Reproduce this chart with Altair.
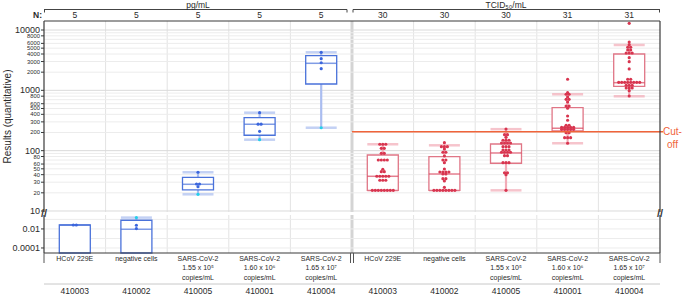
import altair as alt
import pandas as pd

FONT = "Liberation Sans"

# ---------------- data ----------------
SAMPLES = ["410003", "410002", "410005", "410001", "410004"]
NAMES = ["HCoV 229E", "negative cells",
         "SARS-CoV-2\n1.55 x 10⁵\ncopies/mL",
         "SARS-CoV-2\n1.60 x 10⁶\ncopies/mL",
         "SARS-CoV-2\n1.65 x 10⁷\ncopies/mL"]
UNITS = ["pg/mL", "TCID₅₀/mL"]
N_COUNTS = [5, 5, 5, 5, 5, 30, 30, 30, 31, 31]

# box statistics (pg/mL x5, then TCID50/mL x5)
Q1 = [0, 0, 22.3, 180, 1274, 22.0, 22.0, 61.8, 212, 1167]
MED = [0.026, 0.0093, 27.7, 274, 2806, 37.6, 41.0, 91.5, 235, 1339]
Q3 = [0.026, 0.082, 36.2, 352, 3750, 84.8, 79.4, 129, 515, 4000]
WLO = [0, 0, 18.9, 152, 240, 22.0, 22.0, 22.0, 132.5, 797]
WHI = [0.026, 0.155, 43.8, 426, 4270, 127.6, 122.7, 227, 860, 5646]

PG_POINTS = [
    [0.026, 0.026],
    [0.0245, 0.0108],
    [43.8, 28.0, 28.0, 25.3],
    [426, 275, 275, 209],
    [4270, 3345, 2870, 2284],
]
PG_MIN_POINTS = [[], [0.155], [18.9], [152], [240]]

T_410003 = [127.6, 127.6, 127.6, 109.4, 109.4, 90.3, 90.3, 70.0, 70.0, 70.0, 70.0,
            49.1, 44.8, 44.8, 37.6, 37.6, 37.6, 37.6, 37.6, 32.3, 32.3, 32.3,
            22.0, 22.0, 22.0, 22.0, 22.0, 22.0, 22.0, 22.0]
T_410002 = [135.6, 116.4, 116.4, 116.4, 106.6, 94.0, 94.0, 81.6, 70.0, 70.0, 63.2,
            49.7, 44.3, 44.3, 44.3, 44.3, 41.0, 41.0, 34.3, 34.3, 31.4, 24.7,
            22.0, 22.0, 22.0, 22.0, 22.0, 22.0, 22.0, 22.0]
T_410005 = [228.6, 184.0, 184.0, 166.6, 148.6, 148.6, 148.6, 134.1, 134.1, 134.1, 134.1,
            116.4, 116.4, 116.4, 102.6, 102.6, 102.6, 94.0, 94.0, 94.0, 94.0,
            82.6, 82.6, 63.2, 63.2, 63.2, 43.1, 43.1, 40.0, 22.0]
T_410001 = [1524, 914, 860, 860, 776, 710, 710, 641, 550, 550, 504, 376, 319,
            263.5, 263.5, 244, 244, 244, 244, 244, 226, 226, 226, 226, 226,
            198.6, 198.6, 164, 164, 164, 132.5]
T_410004 = [12910, 6324, 5712, 5169, 5169, 4666, 4666, 4161, 4161, 4161, 3476, 2985,
            2261, 1524, 1524, 1358, 1358, 1358, 1358, 1358, 1358, 1358, 1358,
            1213, 1213, 1213, 1094, 1094, 1094, 986, 805]
TCID_POINTS = [T_410003, T_410002, T_410005, T_410001, T_410004]
CUTOFF = 206

UPPER_TICKS = [10, 20, 30, 40, 50, 60, 70, 80, 90, 100, 200, 300, 400, 500, 600, 700,
               800, 900, 1000, 2000, 3000, 4000, 5000, 6000, 7000, 8000, 9000, 10000]
UPPER_UNLABELED = [70, 90, 700, 900, 7000, 9000]
UPPER_MAJOR = [10, 100, 1000, 10000]
LOWER_TICKS = [0.0001, 0.001, 0.01, 0.1]
LOWER_LABELED = [0.0001, 0.01]

# ---------------- colours ----------------
BLUE_BOX, BLUE_LIGHT, BLUE_PT, CYAN = "#4a72da", "#aabdf0", "#3b66dd", "#22d0ea"
RED_BOX, RED_MED, RED_LIGHT, RED_PT = "#e07686", "#d8475f", "#f2abb7", "#d8354f"
ORANGE = "#f0643a"
FRAME = "#3a3a3a"
TXT = "#2a2a2a"

# ---------------- tables ----------------
keys = [f"{u}|{s}" for u in UNITS for s in SAMPLES]
grp = ["pg"] * 5 + ["tcid"] * 5
box_df = pd.DataFrame({"key": keys, "grp": grp, "q1": Q1, "med": MED, "q3": Q3,
                       "wlo": WLO, "whi": WHI})
rows = []
for i in range(5):
    for v in PG_POINTS[i]:
        rows.append((keys[i], "pg", "pg", v))
    for v in PG_MIN_POINTS[i]:
        rows.append((keys[i], "pg", "pg_min", v))
    for v in TCID_POINTS[i]:
        rows.append((keys[5 + i], "tcid", "tcid", v))
pts_df = pd.DataFrame(rows, columns=["key", "grp", "ptype", "val"])
cat_df = pd.DataFrame({"key": keys, "n": N_COUNTS, "name": NAMES * 2,
                       "sid": SAMPLES * 2, "idx": list(range(10))})
unit_df = pd.DataFrame({"key": [keys[2], keys[7]], "unit": UNITS})
cut_df = pd.DataFrame({"key": [keys[5]], "v": [CUTOFF]})
up_tick_df = pd.DataFrame({"v": UPPER_TICKS,
                           "major": [t in UPPER_MAJOR for t in UPPER_TICKS],
                           "lab": [t not in UPPER_UNLABELED for t in UPPER_TICKS]})
lo_tick_df = pd.DataFrame({"v": LOWER_TICKS,
                           "major": [False] * len(LOWER_TICKS),
                           "lab": [t in LOWER_LABELED for t in LOWER_TICKS]})
ONE = pd.DataFrame({"a": [0]})

W, H = 616, 232
UP_TOP, UP_BOT, LO_TOP = 0, 191, 194
XS = alt.Scale(domain=keys, paddingInner=0, paddingOuter=0)
UP = alt.Scale(type="log", domain=[9.62, 14100], range=[UP_BOT, UP_TOP], clamp=True)
LO = alt.Scale(type="log", domain=[2.97e-5, 0.29], range=[H, LO_TOP], clamp=True)


def X(**kw):
    return alt.X("key:N", scale=XS, axis=None, **kw)


def colr(a, b):
    return alt.condition("datum.grp == 'pg'", alt.value(a), alt.value(b))


def panel(scale, tick_df, fmt, box_test, pt_test, extra=()):
    def Y(f):
        return alt.Y(f, type="quantitative", scale=scale, axis=None, title=None)

    # hand-made y axis: grid, ticks, labels
    tk = alt.Chart(tick_df)
    grid = tk.mark_rule(strokeWidth=1).encode(
        x=alt.value(0), x2=alt.value(W), y=Y("v"),
        color=alt.condition("datum.major", alt.value("#dadada"), alt.value("#ececec")))
    ticks = tk.transform_filter("datum.lab").mark_rule(color=FRAME, strokeWidth=1).encode(
        x=alt.value(-3), x2=alt.value(0), y=Y("v"))
    labels = (tk.transform_filter("datum.lab")
              .transform_calculate(txt=f"format(datum.v, '{fmt}')")
              .mark_text(align="right", baseline="middle", font=FONT, color=TXT)
              .encode(x=alt.value(-4), y=Y("v"), text="txt:N",
                      size=alt.condition("datum.major", alt.value(9),
                                         alt.value(5.8 if fmt == "d" else 9))))

    bx = alt.Chart(box_df).transform_filter(box_test)
    wh = bx.mark_rule(strokeWidth=2.2).encode(x=X(), y=Y("q3"), y2="whi:Q",
                                              color=colr(BLUE_LIGHT, RED_LIGHT))
    wl = bx.mark_rule(strokeWidth=2.2).encode(x=X(), y=Y("wlo"), y2="q1:Q",
                                              color=colr(BLUE_LIGHT, RED_LIGHT))
    ch = bx.transform_filter("datum.whi > datum.q3").mark_tick(thickness=2.5, size=31).encode(
        x=X(), y=Y("whi"), color=colr(BLUE_LIGHT, RED_LIGHT))
    cl = bx.transform_filter("datum.wlo > 0").mark_tick(thickness=2.5, size=31).encode(
        x=X(), y=Y("wlo"), color=colr(BLUE_LIGHT, RED_LIGHT))
    box = bx.mark_bar(width=31, fill="white", strokeWidth=1.3).encode(
        x=X(), y=Y("q1"), y2="q3:Q", stroke=colr(BLUE_BOX, RED_BOX))
    med = bx.mark_tick(thickness=1.5, size=31).encode(x=X(), y=Y("med"),
                                                      color=colr(BLUE_BOX, RED_MED))
    pts = (alt.Chart(pts_df).transform_filter(pt_test)
           .transform_window(idx="row_number()", groupby=["key", "val"])
           .transform_joinaggregate(cnt="count()", groupby=["key", "val"])
           .transform_calculate(slot="datum.idx - (datum.cnt + 1) / 2")
           .mark_circle(size=10, opacity=1)
           .encode(x=X(),
                   xOffset=alt.XOffset("slot:Q", scale=alt.Scale(domain=[-10.27, 10.27],
                                                                  range=[0, W / 10])),
                   y=Y("val"),
                   color=alt.Color("ptype:N", legend=None,
                                   scale=alt.Scale(domain=["pg", "pg_min", "tcid"],
                                                   range=[BLUE_PT, CYAN, RED_PT]))))
    return alt.layer(grid, ticks, labels, wh, wl, ch, cl, box, med, pts, *extra)


cut_rule = alt.Chart(cut_df).mark_rule(color=ORANGE, strokeWidth=1.5).encode(
    x=X(bandPosition=0), x2=alt.value(W + 3),
    y=alt.Y("v:Q", scale=UP, axis=None, title=None))
cut_text = alt.Chart(cut_df).mark_text(
    text="Cut-\noff", lineBreak="\n", lineHeight=13, fontSize=10, font=FONT,
    color=ORANGE, align="center", baseline="middle").encode(
    x=alt.value(628.5), y=alt.Y("v:Q", scale=UP, axis=None, title=None))

upper = panel(UP, up_tick_df, "d", "datum.q3 >= 5", "datum.val >= 5", (cut_rule, cut_text))
lower = panel(LO, lo_tick_df, "~g", "datum.q3 < 5", "datum.val < 5")


def seg(x1, x2, y1, y2, color=FRAME, w=1.2):
    return alt.Chart(ONE).mark_rule(color=color, strokeWidth=w).encode(
        x=alt.value(x1), x2=alt.value(x2), y=alt.value(y1), y2=alt.value(y2))


vgrid = []
for (a, b) in [(UP_TOP, UP_BOT), (LO_TOP, H)]:
    vgrid.append(alt.Chart(cat_df).transform_filter("datum.idx != 0 && datum.idx != 5")
                 .mark_rule(color="#e3e3e3", strokeWidth=1)
                 .encode(x=X(bandPosition=0), y=alt.value(a), y2=alt.value(b)))
    vgrid.append(alt.Chart(cat_df).transform_filter("datum.idx == 5")
                 .mark_rule(color="#d4d4d4", strokeWidth=3)
                 .encode(x=X(bandPosition=0), y=alt.value(a), y2=alt.value(b)))

frame = [seg(0, W, 0, 0), seg(0, W, H, H), seg(0, 0, UP_TOP, UP_BOT), seg(0, 0, LO_TOP, H),
         seg(W, W, UP_TOP, UP_BOT), seg(W, W, LO_TOP, H)]
brackets = [seg(0, 303, -11.5, -11.5, "#444", 1), seg(0.5, 0.5, -11.5, -8.5, "#444", 1),
            seg(303, 303, -11.5, -8.5, "#444", 1),
            seg(309, W, -11.5, -11.5, "#444", 1), seg(309, 309, -11.5, -8.5, "#444", 1),
            seg(W - 0.5, W - 0.5, -11.5, -8.5, "#444", 1)]
bottom = [seg(0, W, 263, 263, "#c8c8c8", 1), seg(0, 0, H, H + 10, "#555", 1),
          seg(W, W, H, H + 10, "#555", 1), seg(306.5, 306.5, H, H + 10, "#555", 1),
          seg(309.5, 309.5, H, H + 10, "#555", 1)]

breaks = [alt.Chart(ONE).mark_text(text="//", fontSize=11, font=FONT, color=FRAME,
                                   fontWeight="bold").encode(x=alt.value(xx), y=alt.value(192.5))
          for xx in (0, W)]

n_text = alt.Chart(cat_df).mark_text(fontSize=8.5, font=FONT, color=TXT, baseline="middle").encode(
    x=X(), y=alt.value(-6), text="n:Q")
n_lab = alt.Chart(ONE).mark_text(text="N:", fontSize=8.5, font=FONT, fontWeight="bold",
                                 color=TXT, align="right", baseline="middle").encode(
    x=alt.value(-2), y=alt.value(-6))
unit_text = alt.Chart(unit_df).mark_text(fontSize=8.5, font=FONT, color=TXT, baseline="middle").encode(
    x=X(), y=alt.value(-16), text="unit:N")
name_text = alt.Chart(cat_df).mark_text(fontSize=7, font=FONT, color=TXT, baseline="top",
                                        lineBreak="\n", lineHeight=9.5).encode(
    x=X(), y=alt.value(233.5), text="name:N")
sid_text = alt.Chart(cat_df).mark_text(fontSize=8.5, font=FONT, color=TXT, baseline="middle").encode(
    x=X(), y=alt.value(269.7), text="sid:N")
ytitle = alt.Chart(ONE).mark_text(text="Results (quantitative)", fontSize=10, font=FONT,
                                  color=TXT, angle=270, baseline="middle").encode(
    x=alt.value(-36), y=alt.value(95.5))

chart = alt.layer(
    *vgrid, upper, lower, *frame, *brackets, *bottom, *breaks,
    n_text, n_lab, unit_text, name_text, sid_text, ytitle
).resolve_scale(y="independent").properties(
    width=W, height=H,
    padding={"left": 44, "top": 21, "right": 685 - 44 - W, "bottom": 295 - 21 - H},
    autosize=alt.AutoSizeParams(type="none"),
).configure_view(stroke=None)

chart.save("out.html", embed_options={"renderer": "svg", "actions": False})
